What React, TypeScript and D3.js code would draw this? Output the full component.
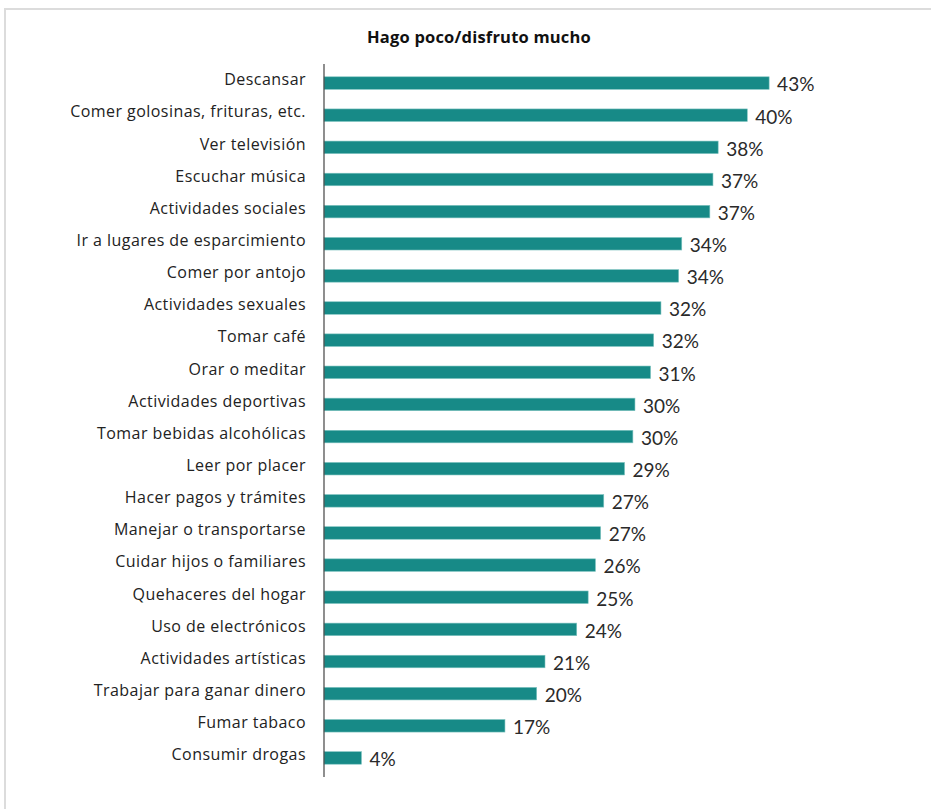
import React from "react";
import * as d3 from "d3";

const categories = [
  "Descansar",
  "Comer golosinas, frituras, etc.",
  "Ver televisión",
  "Escuchar música",
  "Actividades sociales",
  "Ir a lugares de esparcimiento",
  "Comer por antojo",
  "Actividades sexuales",
  "Tomar café",
  "Orar o meditar",
  "Actividades deportivas",
  "Tomar bebidas alcohólicas",
  "Leer por placer",
  "Hacer pagos y trámites",
  "Manejar o transportarse",
  "Cuidar hijos o familiares",
  "Quehaceres del hogar",
  "Uso de electrónicos ",
  "Actividades artísticas",
  "Trabajar para ganar dinero",
  "Fumar tabaco",
  "Consumir drogas",
];

const values = [
  42.8, 40.7, 37.9, 37.4, 37.1, 34.4, 34.1, 32.4, 31.7, 31.4, 29.9, 29.7, 28.9,
  26.9, 26.6, 26.1, 25.4, 24.3, 21.25, 20.45, 17.4, 3.6,
];

const valueLabels = [
  "43%", "40%", "38%", "37%", "37%", "34%", "34%", "32%", "32%", "31%", "30%",
  "30%", "29%", "27%", "27%", "26%", "25%", "24%", "21%", "20%", "17%", "4%",
];

const title = "Hago poco/disfruto mucho";

const W = 931;
const H = 809;
const FONT = "'Open Sans', Lato, sans-serif";
const VFONT = "Lato, 'Open Sans', sans-serif";

export default function App() {
  const x = d3.scaleLinear().domain([0, 10]).range([324, 428]);
  const y = d3
    .scaleBand<string>()
    .domain(categories)
    .range([67, 774])
    .paddingInner(0.61)
    .paddingOuter(0.305);
  const bh = y.bandwidth();

  return (
    <svg
      width={W}
      height={H}
      style={{ position: "absolute", left: 0, top: 0, background: "#fff" }}
    >
      <rect x={5} y={9} width={940} height={820} fill="#fff" stroke="#dcdcdc" strokeWidth={2} />
      <text
        x={479}
        y={43}
        textAnchor="middle"
        fontFamily={FONT}
        fontWeight={700}
        fontSize={16.5}
        letterSpacing={0.2}
        fill="#111"
      >
        {title}
      </text>
      {categories.map((c, i) => {
        const yc = (y(c) as number) + bh / 2;
        return (
          <g key={c}>
            <rect
              x={x(0)}
              y={y(c)}
              width={x(values[i]) - x(0)}
              height={bh}
              fill="#178a87"
              stroke="#7fc4c0"
              strokeWidth={0.6}
            />
            <text
              x={306}
              y={yc - 2}
              textAnchor="end"
              dominantBaseline="middle"
              fontFamily={FONT}
              fontSize={16}
              letterSpacing={0.45}
              fill="#222"
            >
              {c}
            </text>
            <text
              x={x(values[i]) + 8}
              y={yc + 3.5}
              dominantBaseline="middle"
              fontFamily={VFONT}
              fontWeight={400}
              fontSize={19}
              fill="#2a2a2a"
            >
              {valueLabels[i]}
            </text>
          </g>
        );
      })}
      <line x1={324} x2={324} y1={64} y2={777} stroke="#444" strokeWidth={1.2} />
    </svg>
  );
}
